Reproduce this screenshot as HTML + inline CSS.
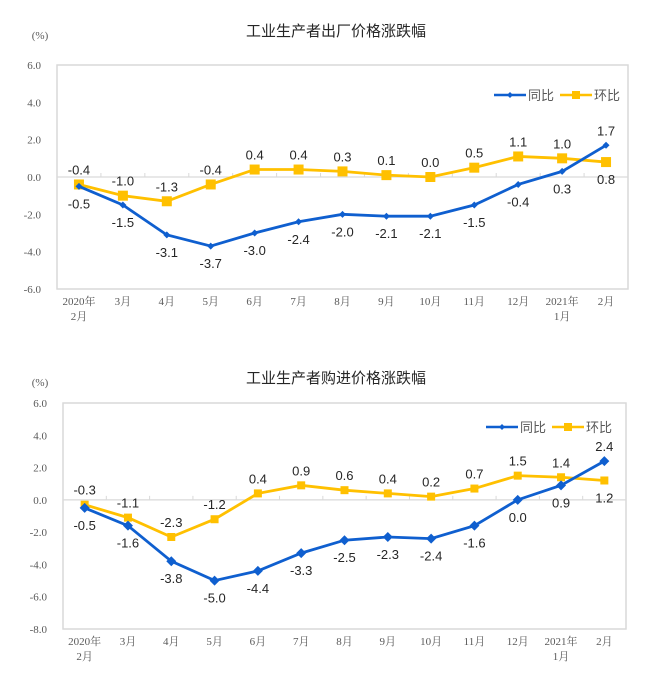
<!DOCTYPE html>
<html><head><meta charset="utf-8">
<style>
body{margin:0;background:#fff;}
svg{display:block;}
.tick{font-family:"Liberation Serif","Noto Serif CJK SC",serif;font-size:11px;fill:#595959;}
.lab{font-family:"Liberation Sans","Noto Sans CJK SC",sans-serif;font-size:13px;fill:#262626;}
.title{font-family:"Liberation Sans","Noto Sans CJK SC",sans-serif;font-size:15px;fill:#262626;}
.leg{font-family:"Liberation Sans","Noto Sans CJK SC",sans-serif;font-size:13px;fill:#595959;}
</style></head>
<body>
<svg id="svg" width="672" height="683"></svg>
<script>
const categories=["2020年|2月","3月","4月","5月","6月","7月","8月","9月","10月","11月","12月","2021年|1月","2月"];
const ppiYoY=[-0.5,-1.5,-3.1,-3.7,-3.0,-2.4,-2.0,-2.1,-2.1,-1.5,-0.4,0.3,1.7];
const ppiMoM=[-0.4,-1.0,-1.3,-0.4,0.4,0.4,0.3,0.1,0.0,0.5,1.1,1.0,0.8];
const purYoY=[-0.5,-1.6,-3.8,-5.0,-4.4,-3.3,-2.5,-2.3,-2.4,-1.6,0.0,0.9,2.4];
const purMoM=[-0.3,-1.1,-2.3,-1.2,0.4,0.9,0.6,0.4,0.2,0.7,1.5,1.4,1.2];
const ticks1=[6,4,2,0,-2,-4,-6];
const ticks2=[6,4,2,0,-2,-4,-6,-8];
const NS="http://www.w3.org/2000/svg";
const svg=document.getElementById('svg');
function el(t,a,p){const e=document.createElementNS(NS,t);for(const k in a)e.setAttribute(k,a[k]);(p||svg).appendChild(e);return e;}
function chart(o){
  const g=el('g',{});
  
  
  const ymax=o.ticks[0],ymin=o.ticks[o.ticks.length-1];
  const y=v=>o.top+(ymax-v)/(ymax-ymin)*(o.bottom-o.top);
  const bw=(o.right-o.left)/categories.length;
  const x=i=>o.left+bw*(i+0.5);
  const t=el('text',{x:336,y:o.titleY,'text-anchor':'middle',class:'title'},g);t.textContent=o.title;
  
  const u=el('text',{x:40,y:o.titleY+3,'text-anchor':'middle',class:'tick'},g);u.textContent='(%)';
  
  const r=el('rect',{x:o.left,y:o.top,width:o.right-o.left,height:o.bottom-o.top,fill:'none',stroke:'#d9d9d9','stroke-width':1.5},g);
  
  o.ticks.forEach(v=>{const tt=el('text',{x:o.left-16,y:y(v)+4,'text-anchor':'end',class:'tick'},g);tt.textContent=v.toFixed(1);
    });
  const z=el('line',{x1:o.left,x2:o.right,y1:y(0),y2:y(0),stroke:'#d9d9d9','stroke-width':1.2},g);
  
  categories.forEach((c,i)=>{
    const xt=o.left+bw*i;
    if(i>0){const tk=el('line',{x1:xt,x2:xt,y1:y(0)-4,y2:y(0),stroke:'#d9d9d9'},g);}
    const parts=c.split('|');
    parts.forEach((p,j)=>{const tx=el('text',{x:x(i),y:o.bottom+16+j*15,'text-anchor':'middle',class:'tick'},g);tx.textContent=p;
      });
  });
  function series(vals,color,mk,name,pos){
    const pl=el('polyline',{points:vals.map((v,i)=>x(i)+','+y(v)).join(' '),fill:'none',stroke:color,'stroke-width':2.8},g);
    
    vals.forEach((v,i)=>{
      let m;
      if(mk==='sq')m=el('rect',{x:x(i)-o.sq,y:y(v)-o.sq,width:o.sq*2,height:o.sq*2,fill:color},g);
      else{const s=o.dm;m=el('polygon',{points:`${x(i)},${y(v)-s} ${x(i)+s},${y(v)} ${x(i)},${y(v)+s} ${x(i)-s},${y(v)}`,fill:color},g);}
      
      const above=pos(i);
      const lb=el('text',{x:x(i),y:above?y(v)-10:y(v)+22,'text-anchor':'middle',class:'lab'},g);
      lb.textContent=v.toFixed(1);
      
    });
  }
  const last=categories.length-1;
  series(o.mom,'#ffc000','sq','mom',i=>i!==last);
  series(o.yoy,'#0f5fcf','dm','yoy',i=>i===last);
  const lg=el('g',{},g);
  const ly=o.legY;
  el('line',{x1:o.legX,x2:o.legX+32,y1:ly,y2:ly,stroke:'#0f5fcf','stroke-width':2.5},lg);
  el('polygon',{points:`${o.legX+16},${ly-3} ${o.legX+19},${ly} ${o.legX+16},${ly+3} ${o.legX+13},${ly}`,fill:'#0f5fcf'},lg);
  const a=el('text',{x:o.legX+34,y:ly+5,class:'leg'},lg);a.textContent='同比';
  el('line',{x1:o.legX+66,x2:o.legX+98,y1:ly,y2:ly,stroke:'#ffc000','stroke-width':2.5},lg);
  el('rect',{x:o.legX+78,y:ly-4,width:8,height:8,fill:'#ffc000'},lg);
  const b=el('text',{x:o.legX+100,y:ly+5,class:'leg'},lg);b.textContent='环比';
}
chart({name:'ppi-chart',title:'工业生产者出厂价格涨跌幅',titleY:36,left:57,right:628,top:65,bottom:289,ticks:ticks1,yoy:ppiYoY,mom:ppiMoM,sq:5,dm:3.5,legX:494,legY:95});
chart({name:'purchase-price-chart',title:'工业生产者购进价格涨跌幅',titleY:383,left:63,right:626,top:403,bottom:629,ticks:ticks2,yoy:purYoY,mom:purMoM,sq:4,dm:5,legX:486,legY:427});
</script>
</body></html>
